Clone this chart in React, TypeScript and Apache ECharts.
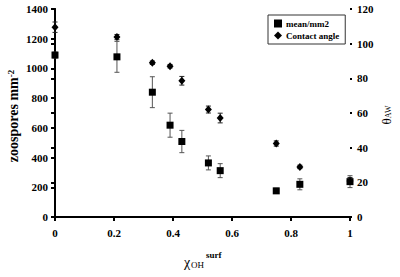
import React, { useEffect, useRef } from "react";
import * as echarts from "echarts";

const xValues = [0, 0.21, 0.33, 0.39, 0.43, 0.52, 0.56, 0.75, 0.83, 1];
const zoosporeMeans = [1090, 1078, 840, 618, 508, 364, 312, 176, 220, 238];
const zoosporeErrors = [20, 104, 104, 81, 75, 47, 47, 17, 37, 40];
const contactAngles = [109.5, 103.8, 89, 87, 78.6, 62, 57.1, 42.4, 28.9, 20.8];
const contactErrors = [3, 1.5, 1, 1, 2.5, 2, 2.8, 1.5, 1, 2];
const xTicks = [0, 0.2, 0.4, 0.6, 0.8, 1];
const leftTicks = [0, 200, 400, 600, 800, 1000, 1200, 1400];
const rightTicks = [0, 20, 40, 60, 80, 100, 120];

const SERIF = '"Liberation Serif", "Times New Roman", serif';

function errRender(color: string, capHalf: number) {
  return (params: any, api: any) => {
    const x = api.value(0);
    const y = api.value(1);
    const e = api.value(2);
    const top = api.coord([x, y + e]);
    const bot = api.coord([x, y - e]);
    const style = { stroke: color, lineWidth: 1 };
    return {
      type: "group",
      children: [
        { type: "line", shape: { x1: top[0], y1: top[1], x2: bot[0], y2: bot[1] }, style },
        { type: "line", shape: { x1: top[0] - capHalf, y1: top[1], x2: top[0] + capHalf, y2: top[1] }, style },
        { type: "line", shape: { x1: bot[0] - capHalf, y1: bot[1], x2: bot[0] + capHalf, y2: bot[1] }, style },
      ],
    };
  };
}

export default function App() {
  const ref = useRef<HTMLDivElement>(null);
  useEffect(() => {
    if (!ref.current) return;
    const chart = echarts.init(ref.current, undefined, { renderer: "svg" });
    const labelStyle = { color: "#000", fontFamily: SERIF, fontWeight: "bold" as const, fontSize: 11 };
    const squares = xValues.map((x, i) => [x, zoosporeMeans[i]]);
    const diamonds = xValues.map((x, i) => [x, contactAngles[i]]);
    const sqErr = xValues.map((x, i) => [x, zoosporeMeans[i], zoosporeErrors[i]]);
    const diErr = xValues.map((x, i) => [x, contactAngles[i], contactErrors[i]]);
    chart.setOption({
      animation: false,
      backgroundColor: "#fff",
      grid: { left: 55, right: 50, top: 9, bottom: 60 },
      legend: {
        show: true,
        orient: "vertical",
        left: 268,
        top: 15,
        padding: [4, 6, 4, 6],
        itemGap: 3,
        itemWidth: 8,
        itemHeight: 8,
        borderColor: "#333",
        borderWidth: 1,
        textStyle: { color: "#000", fontFamily: SERIF, fontWeight: "bold", fontSize: 9, padding: [0, 0, 0, -1] },
        data: [
          { name: "mean/mm2", icon: "rect" },
          { name: "Contact angle", icon: "diamond" },
        ],
      },
      xAxis: [
        {
          type: "value",
          min: 0,
          max: 1,
          interval: 0.2,
          position: "bottom",
          axisLine: { show: true, lineStyle: { color: "#000", width: 2 } },
          axisTick: { show: true, inside: false, length: 4, lineStyle: { color: "#000", width: 2 } },
          axisLabel: {
            ...labelStyle,
            margin: 10,
            formatter: (v: number) => (xTicks.some((t) => Math.abs(t - v) < 1e-9) ? String(+v.toFixed(1)) : ""),
          },
          splitLine: { show: false },
        },
        {
          type: "value",
          min: 0,
          max: 1,
          position: "top",
          axisLine: { show: true, lineStyle: { color: "#000", width: 2 } },
          axisTick: { show: false },
          axisLabel: { show: false },
          splitLine: { show: false },
        },
      ],
      yAxis: [
        {
          type: "value",
          min: 0,
          max: 1400,
          interval: 200,
          position: "left",
          axisLine: { show: true, lineStyle: { color: "#000", width: 2 } },
          axisTick: { show: true, inside: false, length: 4, lineStyle: { color: "#000", width: 2 } },
          axisLabel: {
            ...labelStyle,
            margin: 7,
            formatter: (v: number) => (leftTicks.includes(v) ? String(v) : ""),
          },
          splitLine: { show: false },
        },
        {
          type: "value",
          min: 0,
          max: 120,
          interval: 20,
          position: "right",
          axisLine: { show: true, lineStyle: { color: "#000", width: 2 } },
          axisTick: { show: true, inside: true, length: 4, lineStyle: { color: "#000", width: 2 } },
          axisLabel: {
            ...labelStyle,
            margin: 7,
            formatter: (v: number) => (rightTicks.includes(v) ? String(v) : ""),
          },
          splitLine: { show: false },
        },
        {
          type: "value",
          min: 0,
          max: 120,
          interval: 20,
          position: "right",
          axisLine: { show: false },
          axisTick: { show: true, inside: false, length: 2, lineStyle: { color: "#000", width: 2 } },
          axisLabel: { show: false },
          splitLine: { show: false },
        },
      ],
      series: [
        {
          type: "custom",
          name: "errSq",
          xAxisIndex: 0,
          yAxisIndex: 0,
          renderItem: errRender("#555", 2.5),
          encode: { x: 0, y: 1 },
          data: sqErr,
          z: 1,
          silent: true,
        },
        {
          type: "custom",
          name: "errDi",
          xAxisIndex: 0,
          yAxisIndex: 1,
          renderItem: errRender("#222", 2.5),
          encode: { x: 0, y: 1 },
          data: diErr,
          z: 1,
          silent: true,
        },
        {
          type: "scatter",
          name: "mean/mm2",
          xAxisIndex: 0,
          yAxisIndex: 0,
          symbol: "rect",
          symbolSize: 7,
          itemStyle: { color: "#000", opacity: 1 },
          data: squares,
          clip: false,
          z: 3,
        },
        {
          type: "scatter",
          name: "Contact angle",
          xAxisIndex: 0,
          yAxisIndex: 1,
          symbol: "diamond",
          symbolSize: [7, 8],
          itemStyle: { color: "#000", opacity: 1 },
          data: diamonds,
          clip: false,
          z: 3,
        },
      ],
      graphic: [
        {
          type: "text",
          x: 13,
          y: 116,
          rotation: Math.PI / 2,
          style: {
            text: "{m|zoospores mm}{s|-2}",
            align: "center",
            verticalAlign: "middle",
            fill: "#000",
            rich: {
              m: { fontFamily: SERIF, fontWeight: "bold", fontSize: 14, fill: "#000", verticalAlign: "bottom" },
              s: { fontFamily: SERIF, fontWeight: "bold", fontSize: 9, fill: "#000", verticalAlign: "top" },
            },
          },
        },
        {
          type: "text",
          x: 386,
          y: 115,
          rotation: Math.PI / 2,
          style: {
            text: "{t|θ}{s|AW}",
            align: "center",
            verticalAlign: "middle",
            rich: {
              t: { fontFamily: SERIF, fontSize: 13, fill: "#000", verticalAlign: "top" },
              s: { fontFamily: SERIF, fontSize: 8, fill: "#000", verticalAlign: "bottom" },
            },
          },
        },
        {
          type: "text",
          x: 184,
          y: 262,
          style: {
            text: "χ",
            fontFamily: SERIF,
            fontSize: 14,
            fill: "#000",
            align: "left",
            verticalAlign: "middle",
          },
        },
        {
          type: "text",
          x: 191,
          y: 265,
          style: {
            text: "OH",
            fontFamily: SERIF,
            fontSize: 9,
            fill: "#000",
            align: "left",
            verticalAlign: "middle",
          },
        },
        {
          type: "text",
          x: 206,
          y: 255,
          style: {
            text: "surf",
            fontFamily: SERIF,
            fontWeight: "bold",
            fontSize: 9,
            fill: "#000",
            align: "left",
            verticalAlign: "middle",
          },
        },
      ],
    });
    return () => chart.dispose();
  }, []);
  return (
    <div
      ref={ref}
      style={{ position: "fixed", left: 0, top: 0, width: 400, height: 277, background: "#fff" }}
    />
  );
}
